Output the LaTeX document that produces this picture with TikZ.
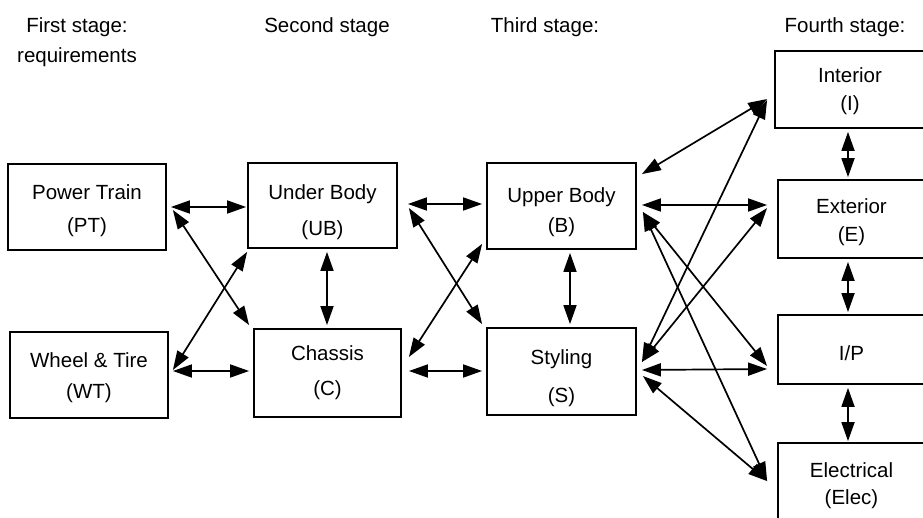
\documentclass[tikz,border=0pt]{standalone}
\usepackage{fontspec}
\setmainfont{Liberation Sans}
\usetikzlibrary{arrows.meta,calc}
\tikzset{tipA/.tip={Triangle[length=19pt,width=13pt]}}
\begin{document}
\begin{tikzpicture}[x=1pt,y=-1pt,
  box/.style={draw,line width=1.8pt,inner sep=0pt},
  txt/.style={inner sep=0pt,align=center,font=\fontsize{20.5}{#1}\selectfont},
  dbl/.style={line width=1.7pt,tipA-tipA},
  hdr/.style={inner sep=0pt,align=center,font=\fontsize{20.5}{30}\selectfont}]
\useasboundingbox (0,0) rectangle (923,518);
\clip (0,0) rectangle (923,518);
% headers
\node[hdr] (h1) at (77,42) {First stage:\\requirements};
\node[hdr] (h2) at (327,27) {Second stage};
\node[hdr] (h3) at (545,27) {Third stage:};
\node[hdr] (h4) at (845,27) {Fourth stage:};
% boxes
\node[box,minimum width=158,minimum height=86] (PT) at (87,207) {};
\node[box,minimum width=158,minimum height=86] (WT) at (89,375) {};
\node[box,minimum width=149,minimum height=85] (UB) at (322.5,205.5) {};
\node[box,minimum width=147,minimum height=88] (C) at (327.5,373) {};
\node[box,minimum width=149,minimum height=86] (B) at (561.5,206) {};
\node[box,minimum width=149,minimum height=87] (S) at (561.5,371.5) {};
\node[box,minimum width=150,minimum height=77] (I) at (850,89.5) {};
\node[box,minimum width=147,minimum height=78] (E) at (851.5,219) {};
\node[box,minimum width=147,minimum height=69] (IP) at (851.5,349.5) {};
\node[box,minimum width=147,minimum height=87] (Elec) at (851.5,486.5) {};
% box texts
\node[txt=33] (PTt) at (87,211) {Power Train\\(PT)};
\node[txt=31] (WTt) at (89,378) {Wheel \& Tire\\(WT)};
\node[txt=36] (UBt) at (322.5,212.5) {Under Body\\(UB)};
\node[txt=35] (Ct) at (327.5,373) {Chassis\\(C)};
\node[txt=30] (Bt) at (561.5,212.5) {Upper Body\\(B)};
\node[txt=38] (St) at (561.5,378.5) {Styling\\(S)};
\node[txt=28] (It) at (850,91.5) {Interior\\(I)};
\node[txt=28] (Et) at (851.5,222.5) {Exterior\\(E)};
\node[txt=28] (IPt) at (851.5,353) {I/P};
\node[txt=27] (Elect) at (851.5,486) {Electrical\\(Elec)};
% connectors
\draw[dbl] ([shift={(4,0)}]PT.east) -- ([shift={(-1,1.5)}]UB.west);
\draw[dbl] ([shift={(6,3)}]PT.east) -- ([shift={(-4,-3)}]C.north west);
\draw[dbl] ([shift={(4,-5)}]WT.east) -- ([shift={(0,3)}]UB.south west);
\draw[dbl] ([shift={(4,-4)}]WT.east) -- ([shift={(-4,-2)}]C.west);
\draw[dbl] ([shift={(4.5,3)}]UB.south) -- ([shift={(-0.5,-3)}]C.north);
\draw[dbl] ([shift={(10,-1.5)}]UB.east) -- ([shift={(-4,-2)}]B.west);
\draw[dbl] ([shift={(11,2.5)}]UB.east) -- ([shift={(-4,-3)}]S.north west);
\draw[dbl] ([shift={(7,-16)}]C.east) -- ([shift={(-4,-6)}]B.south west);
\draw[dbl] ([shift={(7,-2)}]C.east) -- ([shift={(-4,-0.5)}]S.west);
\draw[dbl] ([shift={(8.5,3)}]B.south) -- ([shift={(8.5,-3)}]S.north);
\draw[dbl] ([shift={(5,12)}]B.north east) -- ([shift={(-7,9.5)}]I.west);
\draw[dbl] ([shift={(5,-1)}]B.east) -- ([shift={(-10,-14)}]E.west);
\draw[dbl] ([shift={(6,6)}]B.east) -- ([shift={(-10,16.5)}]IP.west);
\draw[dbl] ([shift={(6,6)}]B.east) -- ([shift={(-10,39)}]Elec.north west);
\draw[dbl] ([shift={(5,-9.5)}]S.east) -- ([shift={(-7,10.5)}]I.west);
\draw[dbl] ([shift={(5,-9.5)}]S.east) -- ([shift={(-10,-11)}]E.west);
\draw[dbl] ([shift={(5,-1.5)}]S.east) -- ([shift={(-10,19.5)}]IP.west);
\draw[dbl] ([shift={(6,4.5)}]S.east) -- ([shift={(-10,39)}]Elec.north west);
\draw[dbl] ([shift={(-2,3)}]I.south) -- ([shift={(-3.5,-2)}]E.north);
\draw[dbl] ([shift={(-3.5,3)}]E.south) -- ([shift={(-3.5,-2)}]IP.north);
\draw[dbl] ([shift={(-3.5,3)}]IP.south) -- ([shift={(-3.5,-1)}]Elec.north);
\end{tikzpicture}
\end{document}
